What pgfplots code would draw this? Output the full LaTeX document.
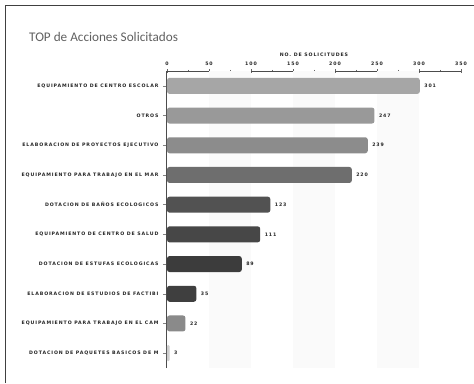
\documentclass[border=0pt]{standalone}
\usepackage{fontspec}
\usepackage{pgfplots}
\pgfplotsset{compat=1.18}
\setmainfont{DejaVu Sans}
\newfontfamily\titlefont{Carlito}
\newfontfamily\labfont[LetterSpace=19]{DejaVu Sans Bold}
\newcommand{\lab}{\labfont\fontsize{4.7}{5}\selectfont}
\definecolor{c1}{HTML}{A6A6A6}
\definecolor{c2}{HTML}{999999}
\definecolor{c3}{HTML}{8C8C8C}
\definecolor{c4}{HTML}{6E6E6E}
\definecolor{c5}{HTML}{525252}
\definecolor{c6}{HTML}{474747}
\definecolor{c7}{HTML}{3C3C3C}
\definecolor{c8}{HTML}{3F3F3F}
\definecolor{c9}{HTML}{8A8A8A}
\definecolor{c10}{HTML}{CFCFCF}
\begin{document}
\begin{tikzpicture}
\path[use as bounding box] (0pt,0pt) rectangle (474pt,-383pt);
\fill[white] (0pt,0pt) rectangle (474pt,-383pt);
\draw[line width=1.4pt, color=black!75] (5.5pt,-383pt) -- (5.5pt,-5.5pt) -- (474pt,-5.5pt);
\node[anchor=base west, font=\titlefont\fontsize{13.2}{15}\selectfont, text=black!62, inner sep=0pt] at (29pt,-41pt) {TOP de Acciones Solicitados};
\begin{axis}[
  at={(167pt,-368pt)}, anchor=south west, scale only axis,
  width=294pt, height=297pt,
  xmin=0, xmax=350, ymin=-0.5, ymax=9.5,
  axis x line=top, axis y line=left,
  axis line style={-, black!70, line width=1pt},
  xtick={0,50,...,350}, minor x tick num=1,
  x tick style={black!60, line width=0.6pt},
  major tick length=4pt, minor tick length=2.5pt,
  xtick align=center,
  ytick={0,...,9},
  ytick align=outside, y tick style={black!50, line width=0.5pt},
  yticklabels={DOTACION DE PAQUETES BASICOS DE M,EQUIPAMIENTO PARA TRABAJO EN EL CAM,ELABORACION DE ESTUDIOS DE FACTIBI,DOTACION DE ESTUFAS ECOLOGICAS,EQUIPAMIENTO DE CENTRO DE SALUD,DOTACION DE BAÑOS ECOLOGICOS,EQUIPAMIENTO PARA TRABAJO EN EL MAR,ELABORACION DE PROYECTOS EJECUTIVO,OTROS,EQUIPAMIENTO DE CENTRO ESCOLAR},
  yticklabel style={font=\lab, text=black!85, xshift=-1pt},
  xticklabel style={font=\lab, text=black!85, /pgf/number format/assume math mode=true},
  xlabel={NO. DE SOLICITUDES},
  xlabel style={font=\lab, text=black!85, at={(axis description cs:0.5,1)}, anchor=south, yshift=11pt},
  every node near coord/.append style={font=\lab, text=black!85, anchor=west, xshift=1pt},
  clip=false,
]
\fill[black!2] (axis cs:50,-0.5) rectangle (axis cs:100,9.5);
\fill[black!2] (axis cs:150,-0.5) rectangle (axis cs:200,9.5);
\fill[black!2] (axis cs:250,-0.5) rectangle (axis cs:300,9.5);
\pgfplotsset{mybar/.style={xbar, bar width=16pt, bar shift=0pt, draw=none, rounded corners=2.5pt, point meta=x, nodes near coords={\pgfmathprintnumber[assume math mode=true]{\pgfplotspointmeta}}}}
\addplot[mybar, fill=c1] coordinates {(301,9)};
\addplot[mybar, fill=c2] coordinates {(247,8)};
\addplot[mybar, fill=c3] coordinates {(239,7)};
\addplot[mybar, fill=c4] coordinates {(220,6)};
\addplot[mybar, fill=c5] coordinates {(123,5)};
\addplot[mybar, fill=c6] coordinates {(111,4)};
\addplot[mybar, fill=c7] coordinates {(89,3)};
\addplot[mybar, fill=c8] coordinates {(35,2)};
\addplot[mybar, fill=c9] coordinates {(22,1)};
\addplot[mybar, fill=c10, rounded corners=1pt] coordinates {(3,0)};
\end{axis}
\end{tikzpicture}
\end{document}
